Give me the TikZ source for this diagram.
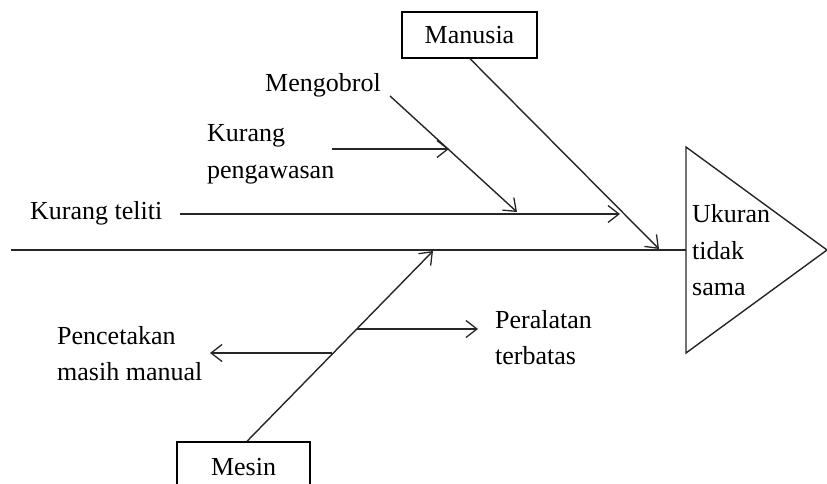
\documentclass[tikz,border=0pt]{standalone}
\usepackage{fontspec}
\setmainfont{Liberation Serif}
\usetikzlibrary{arrows.meta}
\begin{document}
\begin{tikzpicture}[x=1pt,y=-1pt,
  every node/.style={font=\fontsize{26}{36}\selectfont, text=black},
  bone/.style={draw=black!85, line width=1.4pt},
  cause/.style={bone, -{Straight Barb[length=11pt,width=17pt,line width=1.3pt]}},
  catbox/.style={draw=black, line width=1.4pt, fill=white, inner sep=0pt},
  label/.style={anchor=base west, inner sep=0pt, align=left}]
\useasboundingbox (0,0) rectangle (827,484);

% head of the fish
\coordinate (spineL) at (11,250);
\coordinate (triTop) at (686,147);
\coordinate (triBot) at (686,353);
\coordinate (triApex) at (827,250);
\coordinate (spineR) at (686,250);
\draw[bone] (triTop) -- (triApex) -- (triBot) -- cycle;
\draw[bone] (spineL) -- (spineR);
\node[label] (effect1) at (692,222) {Ukuran};
\node[label] (effect2) at (692,259) {tidak};
\node[label] (effect3) at (692,295) {sama};

% category boxes
\node[catbox, minimum width=135pt, minimum height=46pt] (manusia) at (469.5,35) {Manusia};
\node[catbox, minimum width=133pt, minimum height=50pt] (mesin) at (243.5,467) {Mesin};

% main bones
\coordinate (manusiaEnd) at (659,249);
\coordinate (mesinEnd) at (433,251);
\draw[cause] (manusia.south) ++(0.5,0) coordinate (manusiaStart) (manusiaStart) -- (manusiaEnd);
\draw[cause] (mesin.north) ++(3.5,0) coordinate (mesinStart) (mesinStart) -- (mesinEnd);

% causes on the Manusia bone (multi-line labels sit on their last baseline)
\node[label] (mengobrol) at (265,92) {Mengobrol};
\coordinate (mengobrolStart) at (390,96);
\coordinate (mengobrolEnd) at (517,212);
\draw[cause] (mengobrolStart) -- (mengobrolEnd);

\node[label] (pengawasan) at (207,178) {Kurang\\pengawasan};
\coordinate (pengawasanStart) at (332,149);
\coordinate (pengawasanEnd) at (449,149);
\draw[cause] (pengawasanStart) -- (pengawasanEnd);

\node[label] (teliti) at (30,219) {Kurang teliti};
\coordinate (telitiStart) at (180,214);
\coordinate (telitiEnd) at (620,214);
\draw[cause] (telitiStart) -- (telitiEnd);

% causes on the Mesin bone
\node[label] (peralatan) at (495,364) {Peralatan\\terbatas};
\coordinate (peralatanStart) at (357,329);
\coordinate (peralatanEnd) at (478,329);
\draw[cause] (peralatanStart) -- (peralatanEnd);

\node[label] (pencetakan) at (57,380) {Pencetakan\\masih manual};
\coordinate (pencetakanStart) at (332,353);
\coordinate (pencetakanEnd) at (210,353);
\draw[cause] (pencetakanStart) -- (pencetakanEnd);
\end{tikzpicture}
\end{document}
